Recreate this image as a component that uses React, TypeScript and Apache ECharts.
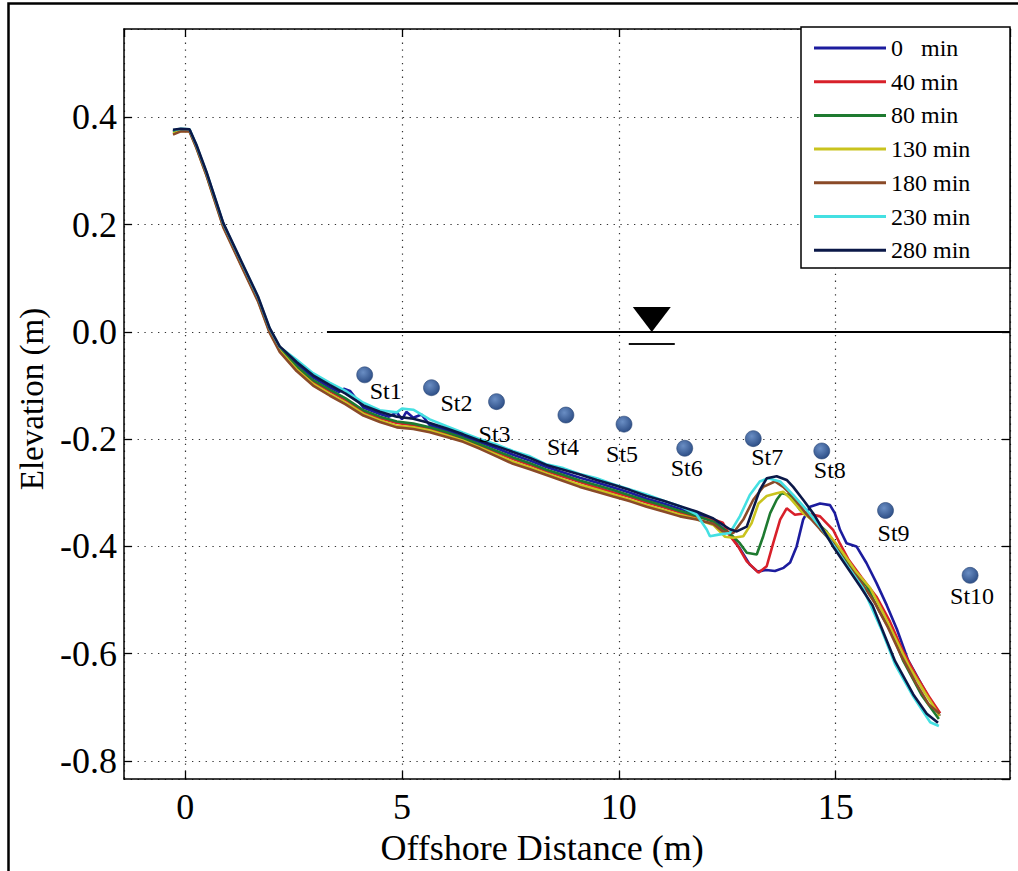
import React, { useEffect, useRef } from "react";
import * as echarts from "echarts";

const FONT = "Liberation Serif";

const seriesNames = ["0   min", "40 min", "80 min", "130 min", "180 min", "230 min", "280 min"];
const seriesColors = ["#1c1c9e", "#d8202a", "#1e7a30", "#c9c31e", "#8a4a28", "#44e0e2", "#0b1848"];

const profile0 = [
  [-0.28, 0.374], [-0.1, 0.378], [0.1, 0.377], [0.26, 0.346], [0.49, 0.296], [0.88, 0.201], [1.3, 0.127], [1.68, 0.062], [1.95, 0.003], [2.18, -0.031],
  [2.57, -0.06], [2.95, -0.085], [3.34, -0.104], [3.55, -0.112], [3.66, -0.106], [3.8, -0.11], [3.95, -0.125], [4.11, -0.141], [4.49, -0.153], [4.7, -0.158],
  [4.88, -0.15], [5.0, -0.163], [5.1, -0.149], [5.26, -0.16], [5.45, -0.154], [5.64, -0.174], [6.03, -0.184], [6.41, -0.195], [6.8, -0.206], [7.18, -0.217],
  [7.56, -0.229], [7.95, -0.24], [8.33, -0.252], [8.72, -0.262], [9.1, -0.272], [9.49, -0.281], [9.87, -0.29], [10.26, -0.3], [10.64, -0.311], [11.03, -0.32],
  [11.41, -0.33], [11.79, -0.339], [12.18, -0.35], [12.56, -0.378], [12.8, -0.405], [13.02, -0.434], [13.2, -0.447], [13.4, -0.444], [13.6, -0.446], [13.8, -0.44],
  [13.95, -0.43], [14.1, -0.4], [14.25, -0.35], [14.41, -0.326], [14.64, -0.32], [14.87, -0.323], [14.98, -0.338], [15.1, -0.369], [15.25, -0.394], [15.48, -0.4],
  [15.71, -0.431], [15.94, -0.468], [16.18, -0.51], [16.41, -0.554], [16.67, -0.612], [17.1, -0.675], [17.4, -0.716],
];

const profile40 = [
  [-0.28, 0.372], [-0.1, 0.376], [0.1, 0.376], [0.26, 0.345], [0.49, 0.294], [0.88, 0.198], [1.3, 0.125], [1.68, 0.06], [1.95, 0.001], [2.18, -0.033],
  [2.57, -0.066], [2.95, -0.093], [3.34, -0.111], [3.7, -0.127], [4.11, -0.149], [4.49, -0.161], [4.88, -0.17], [5.26, -0.174], [5.64, -0.18], [6.03, -0.19],
  [6.41, -0.2], [6.8, -0.212], [7.18, -0.225], [7.56, -0.237], [7.95, -0.248], [8.33, -0.26], [8.72, -0.27], [9.1, -0.28], [9.49, -0.29], [9.87, -0.299],
  [10.26, -0.308], [10.64, -0.318], [11.03, -0.327], [11.41, -0.337], [11.79, -0.345], [12.18, -0.35], [12.4, -0.356], [12.56, -0.38], [12.75, -0.4], [12.95, -0.428],
  [13.22, -0.449], [13.41, -0.437], [13.56, -0.394], [13.72, -0.35], [13.87, -0.329], [14.06, -0.341], [14.33, -0.338], [14.64, -0.344], [14.94, -0.369], [15.1, -0.395],
  [15.3, -0.425], [15.6, -0.458], [15.95, -0.495], [16.25, -0.54], [16.55, -0.595], [16.85, -0.64], [17.15, -0.68], [17.41, -0.711],
];

const profile80 = [
  [-0.28, 0.374], [-0.1, 0.377], [0.1, 0.376], [0.26, 0.346], [0.49, 0.295], [0.88, 0.199], [1.3, 0.126], [1.68, 0.061], [1.95, 0.002], [2.18, -0.032],
  [2.57, -0.064], [2.95, -0.09], [3.34, -0.108], [3.7, -0.124], [4.11, -0.146], [4.49, -0.158], [4.88, -0.167], [5.26, -0.171], [5.64, -0.178], [6.03, -0.187],
  [6.41, -0.198], [6.8, -0.21], [7.18, -0.222], [7.56, -0.234], [7.95, -0.245], [8.33, -0.257], [8.72, -0.267], [9.1, -0.277], [9.49, -0.286], [9.87, -0.295],
  [10.26, -0.305], [10.64, -0.315], [11.03, -0.324], [11.41, -0.334], [11.79, -0.343], [12.18, -0.354], [12.56, -0.376], [12.79, -0.394], [12.95, -0.412], [13.18, -0.415],
  [13.33, -0.381], [13.49, -0.338], [13.64, -0.313], [13.75, -0.301], [13.95, -0.304], [14.18, -0.332], [14.48, -0.35], [14.79, -0.372], [15.05, -0.405], [15.35, -0.44],
  [15.72, -0.474], [16.0, -0.52], [16.3, -0.562], [16.55, -0.612], [16.98, -0.677], [17.38, -0.722],
];

const profile130 = [
  [-0.28, 0.37], [-0.1, 0.375], [0.1, 0.375], [0.26, 0.344], [0.49, 0.293], [0.88, 0.197], [1.3, 0.124], [1.68, 0.059], [1.95, 0.0], [2.18, -0.035],
  [2.57, -0.07], [2.95, -0.097], [3.34, -0.116], [3.7, -0.132], [4.11, -0.153], [4.49, -0.165], [4.88, -0.175], [5.26, -0.178], [5.64, -0.184], [6.03, -0.193],
  [6.41, -0.203], [6.8, -0.216], [7.18, -0.229], [7.56, -0.242], [7.95, -0.253], [8.33, -0.264], [8.72, -0.275], [9.1, -0.285], [9.49, -0.294], [9.87, -0.303],
  [10.26, -0.313], [10.64, -0.323], [11.03, -0.332], [11.41, -0.341], [11.79, -0.349], [12.18, -0.36], [12.45, -0.382], [12.64, -0.384], [12.87, -0.381], [13.06, -0.357],
  [13.22, -0.32], [13.41, -0.306], [13.64, -0.301], [13.79, -0.298], [13.95, -0.31], [14.25, -0.338], [14.55, -0.356], [14.85, -0.378], [15.15, -0.41], [15.45, -0.445],
  [15.8, -0.478], [16.1, -0.525], [16.4, -0.575], [16.7, -0.625], [17.05, -0.672], [17.4, -0.716],
];

const profile180 = [
  [-0.28, 0.368], [-0.1, 0.374], [0.1, 0.374], [0.26, 0.343], [0.49, 0.292], [0.88, 0.195], [1.3, 0.122], [1.68, 0.057], [1.95, -0.002], [2.18, -0.037],
  [2.57, -0.073], [2.95, -0.1], [3.34, -0.119], [3.7, -0.135], [4.11, -0.156], [4.49, -0.168], [4.88, -0.178], [5.26, -0.181], [5.64, -0.187], [6.03, -0.196],
  [6.41, -0.205], [6.8, -0.218], [7.18, -0.232], [7.56, -0.246], [7.95, -0.256], [8.33, -0.267], [8.72, -0.278], [9.1, -0.289], [9.49, -0.298], [9.87, -0.307],
  [10.26, -0.316], [10.64, -0.326], [11.03, -0.335], [11.41, -0.344], [11.79, -0.35], [12.18, -0.358], [12.4, -0.372], [12.64, -0.375], [12.87, -0.35], [13.1, -0.313],
  [13.33, -0.289], [13.6, -0.279], [13.79, -0.289], [14.02, -0.307], [14.33, -0.34], [14.64, -0.368], [14.95, -0.395], [15.25, -0.432], [15.6, -0.468], [15.9, -0.505],
  [16.2, -0.55], [16.5, -0.602], [16.85, -0.655], [17.15, -0.695], [17.4, -0.712],
];

const profile230 = [
  [-0.28, 0.376], [-0.1, 0.379], [0.1, 0.378], [0.26, 0.348], [0.49, 0.298], [0.88, 0.202], [1.3, 0.13], [1.68, 0.065], [1.95, 0.006], [2.18, -0.028],
  [2.57, -0.052], [2.95, -0.077], [3.34, -0.095], [3.7, -0.11], [4.11, -0.132], [4.49, -0.146], [4.88, -0.15], [5.0, -0.143], [5.26, -0.145], [5.64, -0.163],
  [6.03, -0.176], [6.41, -0.188], [6.8, -0.2], [7.18, -0.21], [7.56, -0.222], [7.95, -0.232], [8.33, -0.247], [8.72, -0.254], [9.1, -0.265], [9.49, -0.273],
  [9.87, -0.284], [10.26, -0.294], [10.64, -0.303], [11.03, -0.315], [11.41, -0.325], [11.79, -0.34], [12.03, -0.369], [12.1, -0.381], [12.3, -0.378], [12.56, -0.375],
  [12.79, -0.344], [13.02, -0.304], [13.25, -0.279], [13.44, -0.273], [13.72, -0.279], [14.02, -0.304], [14.33, -0.332], [14.64, -0.363], [15.02, -0.406], [15.3, -0.44],
  [15.63, -0.478], [16.06, -0.556], [16.37, -0.62], [16.79, -0.68], [17.18, -0.728], [17.38, -0.735],
];

const profile280 = [
  [-0.28, 0.377], [-0.1, 0.379], [0.1, 0.378], [0.26, 0.349], [0.49, 0.299], [0.88, 0.203], [1.3, 0.131], [1.68, 0.066], [1.95, 0.007], [2.18, -0.027],
  [2.57, -0.056], [2.95, -0.081], [3.34, -0.099], [3.7, -0.115], [4.11, -0.137], [4.49, -0.149], [4.88, -0.158], [5.26, -0.162], [5.64, -0.17], [6.03, -0.18],
  [6.41, -0.191], [6.8, -0.203], [7.18, -0.213], [7.56, -0.224], [7.95, -0.235], [8.33, -0.248], [8.72, -0.257], [9.1, -0.266], [9.49, -0.276], [9.87, -0.285],
  [10.26, -0.295], [10.64, -0.306], [11.03, -0.315], [11.41, -0.325], [11.79, -0.335], [12.18, -0.348], [12.56, -0.368], [12.72, -0.372], [12.95, -0.363], [13.1, -0.329],
  [13.25, -0.295], [13.41, -0.273], [13.64, -0.269], [13.87, -0.276], [14.02, -0.289], [14.25, -0.313], [14.48, -0.338], [14.71, -0.369], [14.94, -0.4], [15.25, -0.437],
  [15.56, -0.474], [15.85, -0.51], [16.06, -0.552], [16.37, -0.614], [16.79, -0.676], [17.1, -0.712], [17.36, -0.729],
];

const profiles = [profile0, profile40, profile80, profile130, profile180, profile230, profile280];

const stationNames = ["St1", "St2", "St3", "St4", "St5", "St6", "St7", "St8", "St9", "St10"];
const stationX = [4.14, 5.68, 7.18, 8.78, 10.12, 11.52, 13.1, 14.68, 16.15, 18.1];
const stationY = [-0.08, -0.104, -0.13, -0.155, -0.172, -0.217, -0.199, -0.222, -0.333, -0.454];
// label placement (style): pixel offset of each label from its dot
const stationLabelOffsets = [[21, 16], [25, 15], [-2, 32], [-3, 32], [-2, 30], [2, 20], [14, 18], [8, 19], [8, 23], [2, 21]];

const xMin = -1.41;
const xMax = 19.02;
const yMin = -0.834;
const yMax = 0.565;
const xTickStep = 5;
const yTickStep = 0.2;

const waterLevel = 0.0;
const waterLineStartX = 3.27;
const waterMarkX = 10.76;

export default function App() {
  const ref = useRef<HTMLDivElement>(null);

  useEffect(() => {
    if (!ref.current) return;
    const chart = echarts.init(ref.current, undefined, { renderer: "svg" });

    const lineSeries = profiles.map((p, i) => ({
      name: seriesNames[i],
      type: "line",
      data: p,
      showSymbol: false,
      symbol: "none",
      color: seriesColors[i],
      lineStyle: { width: 2.6, color: seriesColors[i] },
      z: 2 + i * 0.01,
    }));

    const dotColor = new echarts.graphic.RadialGradient(0.4, 0.35, 0.65, [
      { offset: 0, color: "#6a8ec4" },
      { offset: 1, color: "#2f5088" },
    ]);

    const gridLine = { show: true, lineStyle: { color: "#333", width: 1.2, type: [1.3, 5.5] } };
    const tickIn = { show: true, inside: true, length: 8, lineStyle: { color: "#000", width: 1.3 } };
    const axisLine = { show: true, onZero: false, lineStyle: { color: "#000", width: 1.5 } };

    const option: any = {
      animation: false,
      backgroundColor: "#fff",
      textStyle: { fontFamily: FONT },
      grid: { left: 124, top: 29, right: 8, bottom: 86, containLabel: false },
      legend: {
        data: seriesNames,
        orient: "vertical",
        left: 814,
        top: 36,
        padding: 0,
        itemGap: 9.7,
        itemWidth: 72,
        itemHeight: 3,
        icon: "rect",
        textStyle: { fontFamily: FONT, fontSize: 24, color: "#000", lineHeight: 24 },
        z: 5,
      },
      xAxis: [
        {
          type: "value",
          min: xMin,
          max: xMax,
          splitNumber: 4,
          minInterval: xTickStep,
          maxInterval: xTickStep,
          axisLine,
          axisTick: tickIn,
          splitLine: gridLine,
          axisLabel: {
            fontFamily: FONT,
            fontSize: 36,
            color: "#000",
            margin: 10,
            showMinLabel: false,
            showMaxLabel: false,
          },
          name: "Offshore Distance (m)",
          nameLocation: "middle",
          nameGap: 46,
          nameTextStyle: { fontFamily: FONT, fontSize: 36, color: "#000", padding: [0, 50, 0, 0] },
        },
        {
          type: "value",
          position: "top",
          min: xMin,
          max: xMax,
          splitNumber: 4,
          minInterval: xTickStep,
          maxInterval: xTickStep,
          axisLine,
          axisTick: tickIn,
          splitLine: { show: false },
          axisLabel: { show: false },
        },
      ],
      yAxis: [
        {
          type: "value",
          min: yMin,
          max: yMax,
          splitNumber: 7,
          minInterval: yTickStep,
          maxInterval: yTickStep,
          axisLine,
          axisTick: tickIn,
          splitLine: gridLine,
          axisLabel: {
            fontFamily: FONT,
            fontSize: 36,
            color: "#000",
            margin: 7,
            showMinLabel: false,
            showMaxLabel: false,
            formatter: (v: number) => (Math.round(v * 10) / 10).toFixed(1),
          },
          name: "Elevation (m)",
          nameLocation: "middle",
          nameGap: 76,
          nameTextStyle: { fontFamily: FONT, fontSize: 33, color: "#000", padding: [0, 0, 0, 10] },
        },
        {
          type: "value",
          position: "right",
          min: yMin,
          max: yMax,
          splitNumber: 7,
          minInterval: yTickStep,
          maxInterval: yTickStep,
          axisLine,
          axisTick: tickIn,
          splitLine: { show: false },
          axisLabel: { show: false },
        },
      ],
      series: [
        {
          name: "waterLine",
          type: "line",
          data: [
            [waterLineStartX, waterLevel],
            [xMax, waterLevel],
          ],
          showSymbol: false,
          symbol: "none",
          lineStyle: { color: "#000", width: 2 },
          z: 1,
          silent: true,
        },
        {
          name: "waterMark",
          type: "scatter",
          data: [[waterMarkX, waterLevel]],
          symbol: "triangle",
          symbolRotate: 180,
          symbolSize: [38, 25],
          symbolOffset: [0, -12.5],
          itemStyle: { color: "#000", opacity: 1 },
          z: 3,
          silent: true,
        },
        {
          name: "waterMarkBar",
          type: "scatter",
          data: [[waterMarkX, waterLevel]],
          symbol: "rect",
          symbolSize: [46, 2],
          symbolOffset: [0, 12],
          itemStyle: { color: "#111", opacity: 1 },
          z: 3,
          silent: true,
        },
        ...lineSeries,
        {
          name: "stations",
          type: "scatter",
          symbolSize: 16,
          itemStyle: { color: dotColor, borderColor: "#2a4676", borderWidth: 0.6, opacity: 1 },
          z: 4,
          data: stationNames.map((n, i) => ({
            name: n,
            value: [stationX[i], stationY[i]],
            label: {
              show: true,
              formatter: n,
              position: "inside",
              offset: stationLabelOffsets[i],
              fontFamily: FONT,
              fontSize: 24,
              color: "#000",
            },
          })),
        },
      ],
      graphic: [
        {
          type: "rect",
          z: 3,
          shape: { x: 801, y: 27, width: 209, height: 241 },
          style: { fill: "#fff", stroke: "#000", lineWidth: 1.5 },
        },
        {
          type: "rect",
          z: 10,
          silent: true,
          shape: { x: 8.5, y: 3.5, width: 1040, height: 900 },
          style: { fill: "none", stroke: "#000", lineWidth: 2.5 },
        },
      ],
    };

    chart.setOption(option);
    return () => chart.dispose();
  }, []);

  return (
    <div
      ref={ref}
      style={{ position: "fixed", left: 0, top: 0, width: 1018, height: 871, background: "#fff" }}
    />
  );
}
